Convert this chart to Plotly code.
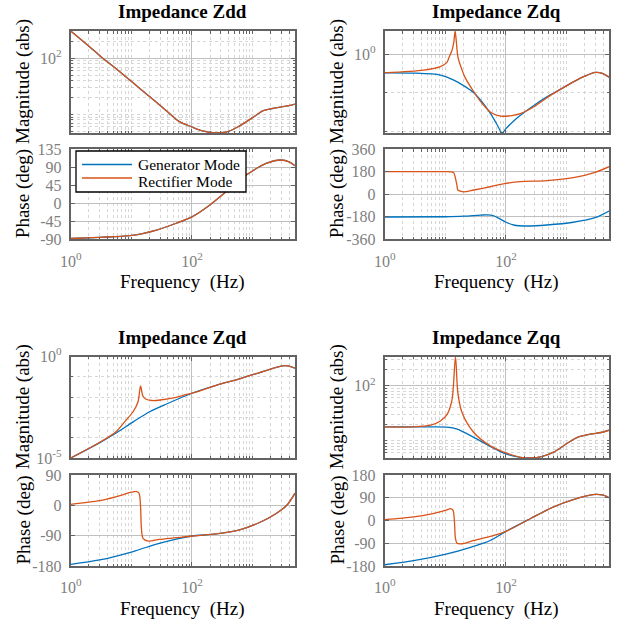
import math
import plotly.graph_objects as go

# ------------------------------------------------------------------ data
GEN_NAME = "Generator Mode"
REC_NAME = "Rectifier Mode"

# Impedance Zdd (both modes coincide)
zdd_mag_f = [1, 2, 3.2, 5, 8, 13.8, 20, 29.4, 45, 63, 100, 150, 250, 400, 600, 1000, 1500, 2100, 3000, 4000, 5000]
zdd_mag_gen = [307, 164.5, 106, 72.3, 47.7, 29.0, 20.9, 14.8, 9.9, 7.4, 6.0, 5.1, 4.69, 5.0, 6.2, 8.8, 11.7, 12.8, 13.7, 14.4, 15.3]
zdd_mag_rec = list(zdd_mag_gen)
zdd_ph_f = [1, 3, 9.5, 26, 55, 100, 195, 368, 785, 1670, 2960, 4000, 5000]
zdd_ph_gen = [-88, -85, -81, -67, -50, -34, -5, 29, 70, 99, 107.6, 103, 93]
zdd_ph_rec = list(zdd_ph_gen)

# Impedance Zdq
zdq_mag_gen_f = [1, 3, 8.3, 13.8, 20, 29.4, 40, 55, 70, 86, 100, 130, 173, 300, 473, 800, 1290, 2000, 2950, 4000, 5000]
zdq_mag_gen = [0.332, 0.326, 0.289, 0.214, 0.154, 0.101, 0.059, 0.0296, 0.0158, 0.00908, 0.0118, 0.0178, 0.0262, 0.0493, 0.0787, 0.125, 0.193, 0.272, 0.340, 0.316, 0.256]
zdq_mag_rec_f = [1, 4.4, 8.3, 10.7, 11.4, 12.9, 13.8, 14.5, 15.2, 16.1, 18.9, 21, 29.4, 40, 55, 75, 92, 130, 173, 300, 473, 800, 1290, 2000, 2950, 4000, 5000]
zdq_mag_rec = [0.332, 0.390, 0.481, 0.630, 0.80, 1.29, 2.09, 4.04, 2.09, 0.866, 0.390, 0.256, 0.107, 0.054, 0.032, 0.0255, 0.0247, 0.0262, 0.0291, 0.045, 0.075, 0.125, 0.193, 0.272, 0.340, 0.316, 0.256]
zdq_ph_gen_f = [1, 10, 20, 38, 50, 60, 71, 85, 100, 134, 221, 473, 1290, 2950, 5000]
zdq_ph_gen = [-182, -180, -176, -167, -165, -170, -185, -205, -224, -246, -254, -246, -224, -188, -134]
zdq_ph_rec_f = [1, 5, 10, 12.5, 13.8, 14.8, 15.5, 16.1, 18.9, 22, 29.4, 55, 100, 173, 473, 1290, 2950, 5000]
zdq_ph_rec = [180, 180, 180, 178, 170, 120, 73, 33, 20, 20, 33, 59, 86, 100, 108, 131, 174, 219]

# Impedance Zqd
zqd_mag_gen_f = [1, 3.03, 5.7, 10.7, 20, 38, 100, 251, 610, 1660, 3150, 4000, 5000]
zqd_mag_gen = [1.0e-5, 5.75e-5, 1.74e-4, 6.0e-4, 1.9e-3, 4.57e-3, 0.0155, 0.038, 0.0794, 0.204, 0.347, 0.339, 0.269]
zqd_mag_rec_f = [1, 3.03, 5.7, 8, 10.7, 12.9, 14.2, 15.5, 17.5, 22, 30, 55, 80, 100, 251, 610, 1660, 3150, 4000, 5000]
zqd_mag_rec = [1.0e-5, 6.0e-5, 2.1e-4, 6.8e-4, 1.9e-3, 5.9e-3, 0.0355, 0.0114, 7.8e-3, 6.8e-3, 7.2e-3, 9.8e-3, 0.0132, 0.0155, 0.038, 0.0794, 0.204, 0.347, 0.339, 0.269]
zqd_ph_gen_f = [1, 3, 10.7, 26, 55, 100, 251, 610, 1300, 2450, 3700, 5000]
zqd_ph_gen = [-175, -162, -137, -115, -100, -91, -85, -73, -51, -24, 1, 36]
zqd_ph_rec_f = [1, 3, 5.7, 10, 12.3, 13.4, 14.2, 14.6, 15.6, 18.9, 29, 55, 100, 251, 610, 1300, 2450, 3700, 5000]
zqd_ph_rec = [3, 14, 26, 39, 41, 36, -4, -63, -98, -106, -101, -96, -91, -85, -73, -51, -24, 1, 36]

# Impedance Zqq
zqq_mag_gen_f = [1, 5, 10.7, 15.7, 29.4, 55, 100, 173, 251, 400, 610, 1000, 1500, 2450, 3700, 5000]
zqq_mag_gen = [17.8, 17.8, 17.6, 16.2, 11.5, 7.9, 5.75, 5.0, 4.85, 5.2, 6.2, 8.8, 11.5, 13.2, 14.1, 15.5]
zqq_mag_rec_f = [1, 3, 5.7, 8.3, 10.7, 12.9, 14.7, 16.1, 18.9, 29.4, 55, 100, 173, 251, 400, 610, 1000, 1500, 2450, 3700, 5000]
zqq_mag_rec = [17.8, 17.8, 19.1, 22.8, 30, 55.6, 339, 73.1, 32.1, 14.1, 8.1, 6.0, 5.0, 4.85, 5.2, 6.2, 8.8, 11.5, 13.2, 14.1, 15.5]
zqq_ph_gen_f = [1, 3, 10.7, 26, 55, 100, 251, 610, 1290, 2950, 4000, 5000]
zqq_ph_gen = [-175, -159, -132, -106, -79, -43, 7, 54, 83, 103, 100, 90]
zqq_ph_rec_f = [1, 3, 5.7, 10, 12.3, 13.4, 14.2, 14.6, 15.6, 18.9, 29.4, 55, 100, 251, 610, 1290, 2950, 4000, 5000]
zqq_ph_rec = [3, 14, 25, 40, 47, 40, -12, -66, -90, -92, -79, -63, -43, 7, 54, 83, 103, 100, 90]

# axis ticks
freq_ticks = [1, 100]
freq_ticktext = ["10<sup>0</sup>", "10<sup>2</sup>"]
zdd_mag_ticks, zdd_mag_ticktext = [100], ["10<sup>2</sup>"]
zdq_mag_ticks, zdq_mag_ticktext = [1], ["10<sup>0</sup>"]
zqd_mag_ticks, zqd_mag_ticktext = [1e-5, 1], ["10<sup>-5</sup>", "10<sup>0</sup>"]
zqq_mag_ticks, zqq_mag_ticktext = [100], ["10<sup>2</sup>"]
zdd_ph_ticks = [-90, -45, 0, 45, 90, 135]
zdq_ph_ticks = [-360, -180, 0, 180, 360]
zqd_ph_ticks = [-180, -90, 0, 90]
zqq_ph_ticks = [-180, -90, 0, 90, 180]

# ------------------------------------------------------------------ style
W, H = 628, 625
GEN_C, REC_C = "#0072BD", "#D95319"
FONT = "Liberation Serif"
AXC = "#636363"
MAJ = "#c0c0c0"
MIN = "#d6d6d6"
TICKC = "#808080"


def xd(a, b):
    return [a / W, b / W]


def yd(top, bot):
    return [1 - bot / H, 1 - top / H]


def px(x):
    return x / W


def py(y):
    return 1 - y / H


def log_minor(lo, hi, majors, digits=True):
    vals = []
    for k in range(math.floor(lo) - 1, math.ceil(hi) + 1):
        ds = range(1, 10) if digits else [1]
        for d in ds:
            v = d * 10 ** k
            if 10 ** lo * 0.999 <= v <= 10 ** hi * 1.001 and all(abs(v - m) > 1e-12 * max(1, m) for m in majors):
                vals.append(v)
    return vals


XLO, XHI = 0, math.log10(5000)
xminor = log_minor(XLO, XHI, freq_ticks)

cols = {"L": (70.7, 295.0), "R": (384.7, 609.0)}
rows = {"T": ((31, 133), (149, 239.3)), "B": ((356.5, 458), (475, 566))}

fig = go.Figure()
layout = dict(
    template="none",
    width=W, height=H, autosize=False,
    margin=dict(l=0, r=0, t=0, b=0, pad=0, autoexpand=False),
    paper_bgcolor="white", plot_bgcolor="white",
    font=dict(family=FONT, size=16, color="black"),
    showlegend=False,
)

panels = [
    dict(name="Zdd", col="L", row="T",
         mag=[(zdd_mag_f, zdd_mag_gen), (zdd_mag_f, zdd_mag_rec)],
         ph=[(zdd_ph_f, zdd_ph_gen), (zdd_ph_f, zdd_ph_rec)],
         mrange=None, mticks=(zdd_mag_ticks, zdd_mag_ticktext), mdigits=True,
         prange=[-90, 135], pticks=zdd_ph_ticks),
    dict(name="Zdq", col="R", row="T",
         mag=[(zdq_mag_gen_f, zdq_mag_gen), (zdq_mag_rec_f, zdq_mag_rec)],
         ph=[(zdq_ph_gen_f, zdq_ph_gen), (zdq_ph_rec_f, zdq_ph_rec)],
         mrange=None, mticks=(zdq_mag_ticks, zdq_mag_ticktext), mdigits=False,
         prange=[-360, 360], pticks=zdq_ph_ticks),
    dict(name="Zqd", col="L", row="B",
         mag=[(zqd_mag_gen_f, zqd_mag_gen), (zqd_mag_rec_f, zqd_mag_rec)],
         ph=[(zqd_ph_gen_f, zqd_ph_gen), (zqd_ph_rec_f, zqd_ph_rec)],
         mrange=[-5, 0], mticks=(zqd_mag_ticks, zqd_mag_ticktext), mdigits=False,
         prange=[-180, 90], pticks=zqd_ph_ticks),
    dict(name="Zqq", col="R", row="B",
         mag=[(zqq_mag_gen_f, zqq_mag_gen), (zqq_mag_rec_f, zqq_mag_rec)],
         ph=[(zqq_ph_gen_f, zqq_ph_gen), (zqq_ph_rec_f, zqq_ph_rec)],
         mrange=None, mticks=(zqq_mag_ticks, zqq_mag_ticktext), mdigits=True,
         prange=[-180, 180], pticks=zqq_ph_ticks),
]

common = dict(ticks="inside", ticklen=4, tickwidth=1, tickcolor=AXC,
              showline=True, linecolor=AXC, linewidth=2, mirror="ticks",
              showgrid=True, gridcolor=MAJ, gridwidth=1.3, zeroline=False,
              automargin=False, tickfont=dict(family=FONT, size=16, color=TICKC))

annotations = []
shapes = []
n = 0
for p in panels:
    x0, x1 = cols[p["col"]]
    (mt, mb), (pt, pb) = rows[p["row"]]
    for kind in ("mag", "ph"):
        n += 1
        xa = "xaxis" if n == 1 else f"xaxis{n}"
        ya = "yaxis" if n == 1 else f"yaxis{n}"
        xr = "x" if n == 1 else f"x{n}"
        yr = "y" if n == 1 else f"y{n}"
        top, bot = (mt, mb) if kind == "mag" else (pt, pb)
        layout[xa] = dict(
            type="log", range=[XLO, XHI], domain=xd(x0, x1), anchor=yr,
            tickmode="array", tickvals=freq_ticks, ticktext=freq_ticktext,
            showticklabels=(kind == "ph"), ticklabelstandoff=6,
            minor=dict(tickmode="array", tickvals=xminor, ticks="inside", ticklen=2.5,
                       tickcolor=AXC, showgrid=True, gridcolor=MIN, griddash="dot", gridwidth=1),
            **common,
        )
        if kind == "mag":
            ys = [v for _, s in p["mag"] for v in s]
            rng = p["mrange"] or [math.log10(min(ys)), math.log10(max(ys))]
            tv, tt = p["mticks"]
            layout[ya] = dict(
                type="log", range=rng, domain=yd(top, bot), anchor=xr,
                tickmode="array", tickvals=tv, ticktext=tt, ticklabelstandoff=4,
                minor=dict(tickmode="array", tickvals=log_minor(rng[0], rng[1], tv, p["mdigits"]),
                           ticks="inside", ticklen=2.5, tickcolor=AXC,
                           showgrid=True, gridcolor=MIN, griddash="dot", gridwidth=1),
                **common,
            )
            series = p["mag"]
        else:
            layout[ya] = dict(
                range=p["prange"], domain=yd(top, bot), anchor=xr,
                tickmode="array", tickvals=p["pticks"], ticktext=[str(v) for v in p["pticks"]],
                ticklabelstandoff=4,
                **common,
            )
            series = p["ph"]
        for (fx, fy), nm, c in zip(series, (GEN_NAME, REC_NAME), (GEN_C, REC_C)):
            fig.add_trace(go.Scatter(
                x=fx, y=fy, mode="lines", name=nm, xaxis=xr, yaxis=yr,
                line=dict(color=c, width=1.3, shape="spline", smoothing=0.8),
                showlegend=False, cliponaxis=True, hoverinfo="skip",
            ))
    cx = (x0 + x1) / 2
    ylab_x = 23 if p["col"] == "L" else 337
    annotations += [
        dict(text="<b>Impedance %s</b>" % p["name"], x=px(cx), y=py(mt - 19),
             xref="paper", yref="paper", showarrow=False, xanchor="center", yanchor="middle",
             font=dict(family=FONT, size=19, color="black")),
        dict(text="Magnitude (abs)", x=px(ylab_x), y=py((mt + mb) / 2), textangle=-90,
             xref="paper", yref="paper", showarrow=False, xanchor="center", yanchor="middle",
             font=dict(family=FONT, size=19, color="black")),
        dict(text="Phase (deg)", x=px(ylab_x), y=py((pt + pb) / 2), textangle=-90,
             xref="paper", yref="paper", showarrow=False, xanchor="center", yanchor="middle",
             font=dict(family=FONT, size=19, color="black")),
        dict(text="Frequency\u00a0 (Hz)", x=px(cx), y=py(pb + 43),
             xref="paper", yref="paper", showarrow=False, xanchor="center", yanchor="middle",
             font=dict(family=FONT, size=19, color="black")),
    ]

# legend box (drawn in the Zdd phase panel, as in the reference)
LEG = dict(x0=76, x1=246, y0=151, y1=192)
shapes.append(dict(type="rect", xref="paper", yref="paper", layer="above",
                   x0=px(LEG["x0"]), x1=px(LEG["x1"]), y0=py(LEG["y1"]), y1=py(LEG["y0"]),
                   line=dict(color="black", width=1.3), fillcolor="white"))
for name, color, yl, yt in ((GEN_NAME, GEN_C, 164.5, 164.5), (REC_NAME, REC_C, 178, 181.5)):
    shapes.append(dict(type="line", xref="paper", yref="paper", layer="above",
                       x0=px(82), x1=px(132), y0=py(yl), y1=py(yl),
                       line=dict(color=color, width=1.3)))
    annotations.append(dict(text=name, x=px(136), y=py(yt), xref="paper", yref="paper",
                            showarrow=False, xanchor="left", yanchor="middle",
                            font=dict(family=FONT, size=15.5, color="black")))

layout["annotations"] = annotations
layout["shapes"] = shapes
fig.update_layout(**layout)
fig.write_html("out.html", config={"displayModeBar": False},
               post_script="document.body.style.margin='0';document.body.style.padding='0';")
